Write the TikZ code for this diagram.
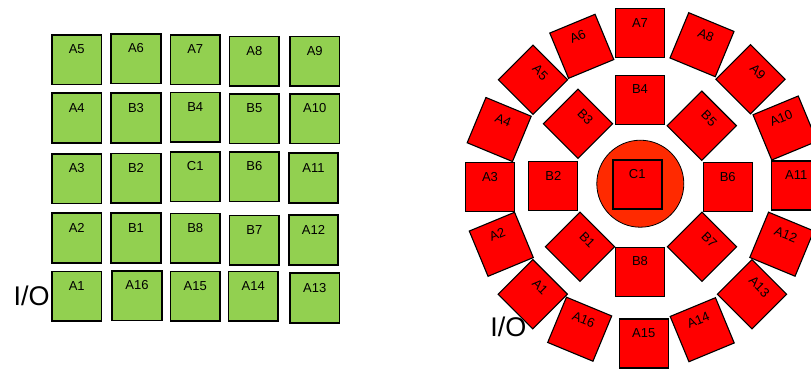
\documentclass[tikz,border=0pt]{standalone}
\usepackage{fontspec}
\setmainfont{Liberation Sans}
\definecolor{gfill}{HTML}{92D050}
\definecolor{rfill}{HTML}{FF0000}
\definecolor{cfill}{HTML}{FF2A00}
\newcommand{\lb}[1]{\raisebox{5.9pt}[0pt][0pt]{#1}}
\tikzset{
  gsq/.style={draw=black, line width=1.6pt, fill=gfill, minimum width=49.5pt, minimum height=49.5pt, inner sep=0pt, font=\fontsize{13}{15}\selectfont},
  rsq/.style={draw=black, line width=1.1pt, fill=rfill, minimum width=49pt, minimum height=49pt, inner sep=0pt, font=\fontsize{13}{15}\selectfont},
  csq/.style={rsq, line width=2pt},
  circ/.style={draw=black, line width=0.8pt, fill=cfill, circle, minimum size=87pt, inner sep=0pt},
  io/.style={font=\fontsize{27}{30}\selectfont, inner sep=0pt}
}
\begin{document}
\begin{tikzpicture}[x=1pt,y=-1pt]
\useasboundingbox (0,0) rectangle (811,368);
% left grid
\node[gsq] (gA5) at (76.7,59.7) {\lb{A5}};
\node[gsq] (gA6) at (136,58.7) {\lb{A6}};
\node[gsq] (gA7) at (195.2,59.8) {\lb{A7}};
\node[gsq] (gA8) at (254.3,61.3) {\lb{A8}};
\node[gsq] (gA9) at (314.7,61.3) {\lb{A9}};
\node[gsq] (gA4) at (76.7,118) {\lb{A4}};
\node[gsq] (gB3) at (136,118) {\lb{B3}};
\node[gsq] (gB4) at (195.2,117.3) {\lb{B4}};
\node[gsq] (gB5) at (254.3,118.7) {\lb{B5}};
\node[gsq] (gA10) at (314.7,118.7) {\lb{A10}};
\node[gsq] (gA3) at (76.7,178.7) {\lb{A3}};
\node[gsq] (gB2) at (136,178.3) {\lb{B2}};
\node[gsq] (gC1) at (195.2,176.8) {\lb{C1}};
\node[gsq] (gB6) at (254.3,176.8) {\lb{B6}};
\node[gsq] (gA11) at (313.5,178) {\lb{A11}};
\node[gsq] (gA2) at (76.7,238) {\lb{A2}};
\node[gsq] (gB1) at (136,238) {\lb{B1}};
\node[gsq] (gB8) at (195.2,238.3) {\lb{B8}};
\node[gsq] (gB7) at (254.3,240.2) {\lb{B7}};
\node[gsq] (gA12) at (313.5,240) {\lb{A12}};
\node[gsq] (gA1) at (76.7,296.2) {\lb{A1}};
\node[gsq] (gA16) at (137,295.8) {\lb{A16}};
\node[gsq] (gA15) at (195.2,296.3) {\lb{A15}};
\node[gsq] (gA14) at (253.2,296.3) {\lb{A14}};
\node[gsq] (gA13) at (314.7,298) {\lb{A13}};
\node[io] (gIO) at (31.7,295.5) {I/O};
% right ring
\node[circ] (rCirc) at (640.3,183.7) {};
\node[csq] (rC1) at (637.2,184.5) {\lb{C1}};
\node[rsq, rotate=-45] (rA1) at (532.8,294.2) {\lb{A1}};
\node[rsq, rotate=22.5] (rA2) at (501.3,244.3) {\lb{A2}};
\node[rsq] (rA3) at (490,187) {\lb{A3}};
\node[rsq, rotate=-22.5] (rA4) at (499.2,129.5) {\lb{A4}};
\node[rsq, rotate=-45] (rA5) at (533,79.7) {\lb{A5}};
\node[rsq, rotate=22.5] (rA6) at (581.8,46.3) {\lb{A6}};
\node[rsq] (rA7) at (640,33.3) {\lb{A7}};
\node[rsq, rotate=-22.5] (rA8) at (702,44.7) {\lb{A8}};
\node[rsq, rotate=-45] (rA9) at (750.5,79.2) {\lb{A9}};
\node[rsq, rotate=22.5] (rA10) at (785,128) {\lb{A10}};
\node[rsq] (rA11) at (796.2,185.5) {\lb{A11}};
\node[rsq, rotate=-22.5] (rA12) at (781.8,244.2) {\lb{A12}};
\node[rsq, rotate=-45] (rA13) at (752,294.2) {\lb{A13}};
\node[rsq, rotate=22.5] (rA14) at (702.2,329.7) {\lb{A14}};
\node[rsq] (rA15) at (643.7,343.5) {\lb{A15}};
\node[rsq, rotate=-22.5] (rA16) at (579.7,329.2) {\lb{A16}};
\node[rsq, rotate=-45] (rB1) at (580,246.8) {\lb{B1}};
\node[rsq] (rB2) at (553.3,186.2) {\lb{B2}};
\node[rsq, rotate=-45] (rB3) at (578,123.8) {\lb{B3}};
\node[rsq] (rB4) at (640,99.8) {\lb{B4}};
\node[rsq, rotate=-45] (rB5) at (701.8,125.7) {\lb{B5}};
\node[rsq] (rB6) at (727.7,187) {\lb{B6}};
\node[rsq, rotate=-45] (rB7) at (702,246.8) {\lb{B7}};
\node[rsq] (rB8) at (640,271.7) {\lb{B8}};
\node[io] (rIO) at (508.3,327.2) {I/O};
\end{tikzpicture}
\end{document}
